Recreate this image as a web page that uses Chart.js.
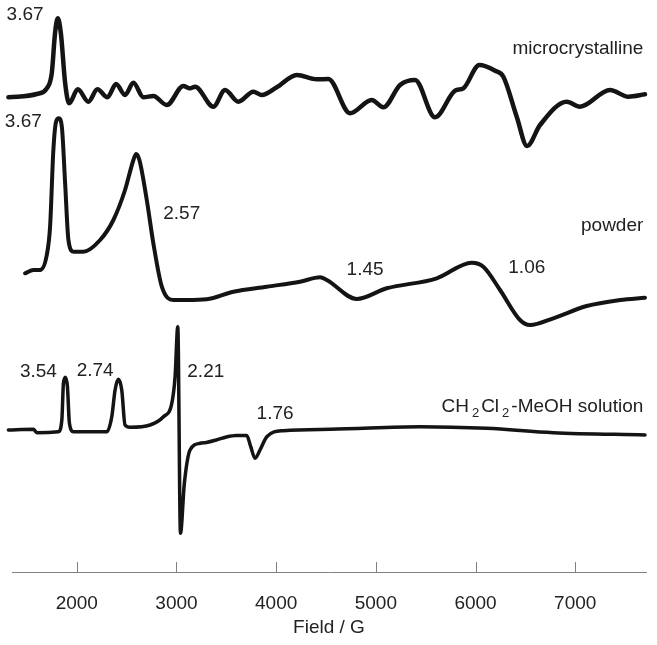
<!DOCTYPE html>
<html>
<head>
<meta charset="utf-8">
<script src="https://cdn.jsdelivr.net/npm/chart.js@4.4.1/dist/chart.umd.min.js"></script>
<style>
  html, body { margin: 0; padding: 0; background: #fff; }
  #wrap { width: 657px; height: 645px; position: relative; }
</style>
</head>
<body>
<div id="wrap"><canvas id="mycanvas"></canvas></div>
<script>
// field axis ticks (G)
var xTicks = [2000, 3000, 4000, 5000, 6000, 7000];

// microcrystalline trace: field (G) and signal (arb. units, relative to its baseline)
var microField  = [1314, 1599, 1699, 1749, 1782, 1809, 1840, 1883, 1923, 2010, 2116, 2207, 2307, 2394, 2484, 2568, 2668, 2768, 2903, 3069, 3136, 3187, 3370, 3487, 3621, 3771, 3856, 4006, 4207, 4407, 4524, 4741, 4959, 5075, 5243, 5393, 5594, 5794, 5878, 6038, 6196, 6279, 6413, 6517, 6647, 6915, 7048, 7349, 7533, 7700];
var microSignal = [-1.3, 2, 7.7, 22.7, 63, 77.7, 63, 13, -7.3, 6.7, -5.7, 6.7, -1.3, 12, 1, 13.3, -1.3, 0, -9, 10, 7.7, 9.3, -10.7, 6, -5.7, 4.3, 1, 8.7, 21, 16.7, 17, -17.3, -4, -11.3, 11, 16, -21.3, 5.3, 7.7, 31, 25.3, 19.3, -20.7, -50, -29, -5.7, -10.7, 6, -0.7, 1.7];
var microBase = 476;

// powder trace
var powderField  = [1481, 1565, 1632, 1699, 1732, 1765, 1792, 1819, 1850, 1883, 1916, 1966, 2066, 2234, 2367, 2484, 2568, 2595, 2628, 2702, 2768, 2853, 2969, 3103, 3304, 3571, 3906, 4240, 4440, 4508, 4808, 5109, 5611, 5962, 6078, 6246, 6446, 6547, 6780, 7115, 7449, 7700];
var powderSignal = [26.7, 30, 30, 45, 73.3, 150, 178.3, 181.7, 173.3, 116.7, 60, 48.3, 48.3, 60, 80, 110, 140, 146, 140, 100, 56.7, 13.3, 0, 0, 0.7, 8.3, 13.3, 18.3, 22.7, 20, 1, 11.7, 21.7, 37.3, 33.3, 10, -20, -25, -18.3, -6, 0, 2.3];
var powderBase = 272;

// CH2Cl2-MeOH solution trace
var solnField  = [1314, 1565, 1599, 1815, 1850, 1866, 1886, 1906, 1926, 1966, 2301, 2351, 2384, 2417, 2451, 2484, 2535, 2735, 2869, 2953, 2986, 3013, 3040, 3079, 3136, 3237, 3300, 3400, 3500, 3600, 3705, 3745, 3788, 3838, 3906, 4072, 4541, 5443, 6112, 6780, 7700];
var solnSignal = [0, 0.7, -2.7, -1.7, 10, 46.7, 52.7, 43.3, 6.7, -1.7, -1.7, 13.3, 40, 50.7, 40, 5, 2.7, 5, 13.3, 26.7, 53.3, 103.3, -103.3, -53.3, -20, -13.3, -12.5, -10, -7, -5.5, -5.5, -16.7, -28.3, -20, -6.7, -0.7, 0.7, 3.3, 1.7, -2.7, -5];
var solnBase = 142;

// text labels (g values and sample names), placed in axis units
var notes = [
  { text: '3.67', x: 1481, y: 557, align: 'center' },
  { text: 'microcrystalline', x: 7683, y: 523, align: 'right' },
  { text: '3.67', x: 1464, y: 450, align: 'center' },
  { text: '2.57', x: 3053, y: 358, align: 'center' },
  { text: 'powder', x: 7683, y: 346, align: 'right' },
  { text: '1.45', x: 4892, y: 302, align: 'center' },
  { text: '1.06', x: 6514, y: 304, align: 'center' },
  { text: '3.54', x: 1615, y: 200, align: 'center' },
  { text: '2.74', x: 2184, y: 201, align: 'center' },
  { text: '2.21', x: 3294, y: 200, align: 'center' },
  { text: '1.76', x: 3989, y: 158, align: 'center' }
];
var solnLabel = [
  { t: 'CH' }, { t: '2', sub: true }, { t: 'Cl' }, { t: '2', sub: true }, { t: '-MeOH solution' }
];
var solnLabelPos = { x: 7683, y: 165 };

var FONT = '"Liberation Sans", Arial, Helvetica, sans-serif';
var TEXT = '#222';
var LINE = '#141414';

function toPoints(fields, sig, base) {
  var pts = [];
  for (var i = 0; i < fields.length; i++) {
    pts.push({ x: fields[i], y: base + sig[i] });
  }
  return pts;
}

var annotate = {
  id: 'annotate',
  afterDraw: function(chart) {
    var ctx = chart.ctx;
    var xs = chart.scales.x, ys = chart.scales.y;
    var area = chart.chartArea;
    ctx.save();
    // tick marks pointing up from the axis line
    ctx.strokeStyle = '#808080';
    ctx.lineWidth = 1;
    xTicks.forEach(function(v) {
      var px = Math.round(xs.getPixelForValue(v)) + 0.5;
      ctx.beginPath();
      ctx.moveTo(px, area.bottom);
      ctx.lineTo(px, area.bottom - 10);
      ctx.stroke();
    });
    ctx.fillStyle = TEXT;
    ctx.textBaseline = 'middle';
    ctx.font = '19px ' + FONT;
    notes.forEach(function(n) {
      ctx.textAlign = n.align;
      ctx.fillText(n.text, xs.getPixelForValue(n.x), ys.getPixelForValue(n.y));
    });
    // solution label with subscripts
    var big = '19px ' + FONT, small = '13px ' + FONT;
    var total = 0;
    solnLabel.forEach(function(p) {
      ctx.font = p.sub ? small : big;
      p.w = ctx.measureText(p.t).width + (p.sub ? 5 : 0);
      total += p.w;
    });
    var cx = xs.getPixelForValue(solnLabelPos.x) - total;
    var cy = ys.getPixelForValue(solnLabelPos.y);
    ctx.textAlign = 'left';
    solnLabel.forEach(function(p) {
      ctx.font = p.sub ? small : big;
      if (p.sub) ctx.fillText(p.t, cx + 3, cy + 6);
      else ctx.fillText(p.t, cx, cy);
      cx += p.w;
    });
    ctx.restore();
  }
};

var lineStyle = {
  borderColor: LINE,
  pointRadius: 0,
  fill: false,
  clip: false,
  cubicInterpolationMode: 'monotone',
  borderJoinStyle: 'round',
  borderCapStyle: 'round'
};

var ctx = document.getElementById('mycanvas');
var chart = new Chart(ctx, {
  type: 'line',
  data: {
    datasets: [
      Object.assign({ label: 'microcrystalline', data: toPoints(microField, microSignal, microBase), borderWidth: 4.5 }, lineStyle),
      Object.assign({ label: 'powder', data: toPoints(powderField, powderSignal, powderBase), borderWidth: 4 }, lineStyle),
      Object.assign({ label: 'CH2Cl2-MeOH solution', data: toPoints(solnField, solnSignal, solnBase), borderWidth: 3.5 }, lineStyle)
    ]
  },
  options: {
    responsive: true,
    maintainAspectRatio: false,
    animation: false,
    layout: { padding: { left: 12, right: 11, top: 0, bottom: 0 } },
    plugins: {
      legend: { display: false },
      tooltip: { enabled: false },
      colors: { enabled: false }
    },
    scales: {
      x: {
        type: 'linear',
        min: 1350,
        max: 7710,
        afterBuildTicks: function(axis) {
          axis.ticks = xTicks.map(function(v) { return { value: v }; });
        },
        afterFit: function(axis) { axis.height = 73; },
        grid: { display: false },
        border: { display: true, color: '#808080', width: 1 },
        ticks: {
          color: TEXT,
          font: { family: FONT, size: 19 },
          padding: 12,
          maxRotation: 0,
          autoSkip: false,
          callback: function(v) { return String(v); }
        },
        title: {
          display: true,
          text: 'Field / G',
          color: TEXT,
          font: { family: FONT, size: 19 },
          padding: { top: 0, bottom: 6 }
        }
      },
      y: { display: false, min: 0, max: 572 }
    }
  },
  plugins: [annotate]
});
</script>
</body>
</html>
